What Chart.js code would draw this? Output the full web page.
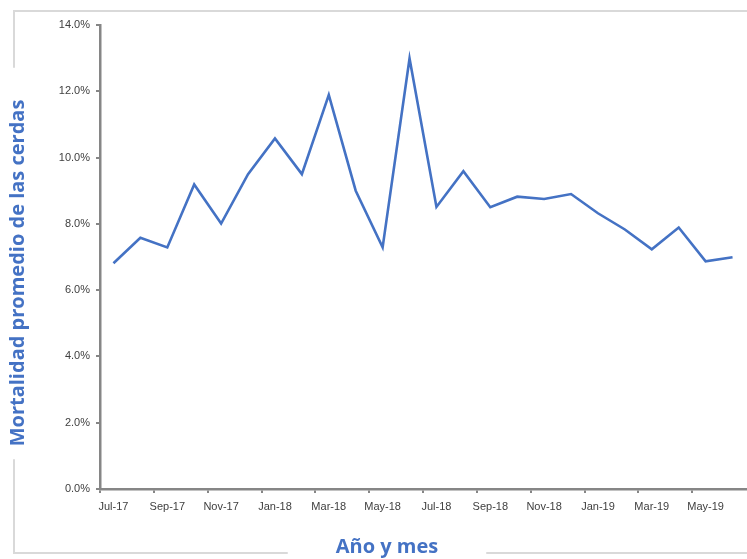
<!DOCTYPE html>
<html>
<head>
<meta charset="utf-8">
<title>Mortalidad promedio de las cerdas</title>
<script src="https://cdn.jsdelivr.net/npm/chart.js@4/dist/chart.umd.min.js"></script>
<style>
    html, body { margin: 0; padding: 0; background: #ffffff; }
    #wrap { width: 747px; height: 559px; position: relative; }
</style>
</head>
<body>
<div id="wrap"><canvas id="chart"></canvas></div>
<script>
'use strict';

// Data
const months = [
    'Jul-17', 'Aug-17', 'Sep-17', 'Oct-17', 'Nov-17', 'Dec-17',
    'Jan-18', 'Feb-18', 'Mar-18', 'Apr-18', 'May-18', 'Jun-18',
    'Jul-18', 'Aug-18', 'Sep-18', 'Oct-18', 'Nov-18', 'Dec-18',
    'Jan-19', 'Feb-19', 'Mar-19', 'Apr-19', 'May-19', 'Jun-19'
];
const mortality = [
    6.81, 7.58, 7.29, 9.19, 8.01, 9.50,
    10.58, 9.50, 11.89, 9.00, 7.29, 12.99,
    8.51, 9.59, 8.50, 8.82, 8.75, 8.90,
    8.32, 7.83, 7.23, 7.89, 6.87, 6.99
];
const yTicks = [0, 2, 4, 6, 8, 10, 12, 14];

const xTitle = 'Año y mes';
const yTitle = 'Mortalidad promedio de las cerdas';

const BLUE = '#4472c4';
const AXIS = '#868686';
const FRAME = '#d9d9d9';
const TITLE_FONT = 'bold 20px "Open Sans", sans-serif';

// Frame of the chart area, broken where the axis titles sit
const framePlugin = {
    id: 'frameTitles',
    afterDraw(chart) {
        const ctx = chart.ctx;
        ctx.save();
        ctx.font = TITLE_FONT;
        const xw = ctx.measureText(xTitle).width;
        const yw = ctx.measureText(yTitle).width;
        const xc = 387, xy = 547;
        const yc = 273, yx = 18;

        ctx.strokeStyle = FRAME;
        ctx.lineWidth = 2;
        ctx.beginPath();
        ctx.moveTo(14, yc - yw / 2 - 32);
        ctx.lineTo(14, 11);
        ctx.lineTo(chart.width + 5, 11);
        ctx.moveTo(14, yc + yw / 2 + 13);
        ctx.lineTo(14, 553);
        ctx.lineTo(xc - xw / 2 - 48, 553);
        ctx.moveTo(xc + xw / 2 + 48, 553);
        ctx.lineTo(chart.width + 5, 553);
        ctx.stroke();

        ctx.fillStyle = BLUE;
        ctx.textAlign = 'center';
        ctx.textBaseline = 'middle';
        ctx.fillText(xTitle, xc, xy);

        ctx.translate(yx, yc);
        ctx.rotate(-Math.PI / 2);
        ctx.fillText(yTitle, 0, 0);
        ctx.restore();
    }
};

new Chart(document.getElementById('chart'), {
    type: 'line',
    data: {
        labels: months,
        datasets: [{
            label: 'Mortalidad',
            data: mortality,
            borderColor: BLUE,
            backgroundColor: BLUE,
            borderWidth: 2.6,
            pointRadius: 0,
            tension: 0,
            fill: false
        }]
    },
    options: {
        responsive: true,
        maintainAspectRatio: false,
        animation: false,
        layout: { padding: { top: 25, right: 1, left: 0, bottom: 0 } },
        plugins: {
            legend: { display: false },
            tooltip: { enabled: false }
        },
        scales: {
            x: {
                type: 'category',
                offset: true,
                afterFit(scale) { scale.height = 70; },
                grid: {
                    offset: true,
                    drawOnChartArea: false,
                    tickLength: 4,
                    lineWidth: 2,
                    color: (c) => (c.index % 2 === 0 ? AXIS : 'rgba(0,0,0,0)')
                },
                border: { color: AXIS, width: 2.5 },
                ticks: {
                    autoSkip: false,
                    maxRotation: 0,
                    padding: 7,
                    color: '#404040',
                    font: { family: '"Liberation Sans", Arial, sans-serif', size: 11 },
                    callback(value, index) {
                        return index % 2 === 0 ? months[index] : '';
                    }
                }
            },
            y: {
                min: yTicks[0],
                max: yTicks[yTicks.length - 1],
                afterFit(scale) { scale.width = 100; },
                afterBuildTicks(scale) {
                    scale.ticks = yTicks.map(v => ({ value: v }));
                },
                grid: {
                    drawOnChartArea: false,
                    tickLength: 4,
                    lineWidth: 2,
                    color: AXIS
                },
                border: { color: AXIS, width: 2.5 },
                ticks: {
                    padding: 6,
                    color: '#404040',
                    font: { family: '"Liberation Sans", Arial, sans-serif', size: 11 },
                    callback(value) { return value.toFixed(1) + '%'; }
                }
            }
        }
    },
    plugins: [framePlugin]
});
</script>
</body>
</html>
